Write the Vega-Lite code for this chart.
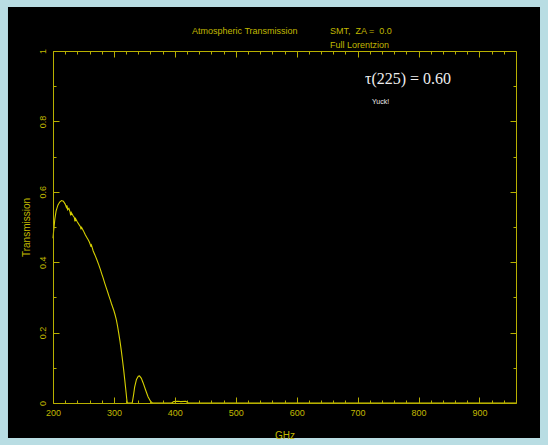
{
  "$schema": "https://vega.github.io/schema/vega-lite/v6.json",
  "width": 463,
  "height": 352,
  "autosize": {"type": "none"},
  "padding": {"left": 53, "top": 51, "right": 32, "bottom": 42},
  "background": "#b9dde3",
  "config": {"view": {"stroke": null}},
  "data": {"values": [
    {"GHz": 200, "Transmission": 0.468},
    {"GHz": 201, "Transmission": 0.488},
    {"GHz": 203, "Transmission": 0.522},
    {"GHz": 205, "Transmission": 0.545},
    {"GHz": 208, "Transmission": 0.562},
    {"GHz": 211, "Transmission": 0.571},
    {"GHz": 214, "Transmission": 0.575},
    {"GHz": 217, "Transmission": 0.573},
    {"GHz": 220, "Transmission": 0.565},
    {"GHz": 222, "Transmission": 0.556},
    {"GHz": 223, "Transmission": 0.561},
    {"GHz": 224, "Transmission": 0.549},
    {"GHz": 226, "Transmission": 0.553},
    {"GHz": 228, "Transmission": 0.543},
    {"GHz": 229, "Transmission": 0.533},
    {"GHz": 230, "Transmission": 0.541},
    {"GHz": 233, "Transmission": 0.532},
    {"GHz": 235, "Transmission": 0.527},
    {"GHz": 236, "Transmission": 0.516},
    {"GHz": 237, "Transmission": 0.524},
    {"GHz": 240, "Transmission": 0.514},
    {"GHz": 243, "Transmission": 0.506},
    {"GHz": 245, "Transmission": 0.501},
    {"GHz": 246, "Transmission": 0.493},
    {"GHz": 247, "Transmission": 0.499},
    {"GHz": 250, "Transmission": 0.489},
    {"GHz": 253, "Transmission": 0.478},
    {"GHz": 256, "Transmission": 0.469},
    {"GHz": 258, "Transmission": 0.463},
    {"GHz": 260, "Transmission": 0.456},
    {"GHz": 262, "Transmission": 0.446},
    {"GHz": 263, "Transmission": 0.449},
    {"GHz": 266, "Transmission": 0.432},
    {"GHz": 269, "Transmission": 0.42},
    {"GHz": 272, "Transmission": 0.407},
    {"GHz": 275, "Transmission": 0.393},
    {"GHz": 278, "Transmission": 0.378},
    {"GHz": 280, "Transmission": 0.367},
    {"GHz": 282, "Transmission": 0.357},
    {"GHz": 285, "Transmission": 0.34},
    {"GHz": 288, "Transmission": 0.324},
    {"GHz": 290, "Transmission": 0.314},
    {"GHz": 292, "Transmission": 0.303},
    {"GHz": 294, "Transmission": 0.293},
    {"GHz": 296, "Transmission": 0.282},
    {"GHz": 298, "Transmission": 0.272},
    {"GHz": 300, "Transmission": 0.262},
    {"GHz": 302, "Transmission": 0.25},
    {"GHz": 304, "Transmission": 0.236},
    {"GHz": 306, "Transmission": 0.218},
    {"GHz": 308, "Transmission": 0.197},
    {"GHz": 310, "Transmission": 0.175},
    {"GHz": 312, "Transmission": 0.15},
    {"GHz": 314, "Transmission": 0.123},
    {"GHz": 316, "Transmission": 0.094},
    {"GHz": 318, "Transmission": 0.062},
    {"GHz": 320, "Transmission": 0.03},
    {"GHz": 321, "Transmission": 0.012},
    {"GHz": 322, "Transmission": 0},
    {"GHz": 330, "Transmission": 0},
    {"GHz": 332, "Transmission": 0.02},
    {"GHz": 334, "Transmission": 0.045},
    {"GHz": 337, "Transmission": 0.067},
    {"GHz": 340, "Transmission": 0.076},
    {"GHz": 342, "Transmission": 0.077},
    {"GHz": 345, "Transmission": 0.07},
    {"GHz": 348, "Transmission": 0.057},
    {"GHz": 352, "Transmission": 0.037},
    {"GHz": 356, "Transmission": 0.018},
    {"GHz": 360, "Transmission": 0.005},
    {"GHz": 363, "Transmission": 0},
    {"GHz": 395, "Transmission": 0},
    {"GHz": 398, "Transmission": 0.004},
    {"GHz": 405, "Transmission": 0.005},
    {"GHz": 410, "Transmission": 0.004},
    {"GHz": 418, "Transmission": 0.005},
    {"GHz": 422, "Transmission": 0},
    {"GHz": 960, "Transmission": 0}
  ]},
  "layer": [
    {
      "data": {"values": [{}]},
      "mark": {"type": "rect", "color": "black"},
      "encoding": {
        "x": {"datum": 126.1, "type": "quantitative",
          "scale": {"domain": [200, 960], "nice": false, "zero": false},
          "axis": {"orient": "top", "zindex": 1, "values": [200,220,240,260,280,300,320,340,360,380,400,420,440,460,480,500,520,540,560,580,600,620,640,660,680,700,720,740,760,780,800,820,840,860,880,900,920,940],
            "tickSize": {"condition": {"test": "datum.value % 100 === 0", "value": -6}, "value": -3},
            "tickColor": "#b8b000", "domainColor": "#b8b000", "labels": false, "title": null, "grid": false}},
        "x2": {"datum": 999.4},
        "y": {"datum": 1.125, "type": "quantitative",
          "scale": {"domain": [0, 1], "nice": false, "zero": false},
          "axis": {"orient": "right", "zindex": 1, "values": [0,0.1,0.2,0.3,0.4,0.5,0.6,0.7,0.8,0.9,1],
            "tickSize": {"condition": {"test": "abs(datum.value*5 - round(datum.value*5)) < 1e-6", "value": -6}, "value": -3},
            "tickColor": "#b8b000", "domainColor": "#b8b000", "labels": false, "title": null, "grid": false}},
        "y2": {"datum": -0.0994}
      }
    },
    {
      "mark": {"type": "line", "color": "#d6d000", "strokeWidth": 1.1},
      "encoding": {
        "x": {"field": "GHz", "type": "quantitative",
          "scale": {"domain": [200, 960], "nice": false, "zero": false},
          "axis": {"orient": "bottom", "zindex": 1, "values": [200,220,240,260,280,300,320,340,360,380,400,420,440,460,480,500,520,540,560,580,600,620,640,660,680,700,720,740,760,780,800,820,840,860,880,900,920,940],
            "tickSize": {"condition": {"test": "datum.value % 100 === 0", "value": -6}, "value": -3},
            "labelExpr": "datum.value % 100 === 0 ? datum.label : ''",
            "labelFlush": false, "labelOverlap": false, "labelBound": false, "labelPadding": 11,
            "labelFont": "Liberation Sans", "labelFontSize": 9, "labelColor": "#c0b800",
            "tickColor": "#b8b000", "domainColor": "#b8b000", "grid": false,
            "title": "GHz", "titleFont": "Liberation Sans", "titleFontSize": 10, "titleFontWeight": "normal", "titleColor": "#c0b800", "titlePadding": 10}},
        "y": {"field": "Transmission", "type": "quantitative",
          "scale": {"domain": [0, 1], "nice": false, "zero": false},
          "axis": {"orient": "left", "zindex": 1, "values": [0,0.1,0.2,0.3,0.4,0.5,0.6,0.7,0.8,0.9,1],
            "format": "~g",
            "tickSize": {"condition": {"test": "abs(datum.value*5 - round(datum.value*5)) < 1e-6", "value": -6}, "value": -3},
            "labelExpr": "abs(datum.value*5 - round(datum.value*5)) < 1e-6 ? datum.label : ''",
            "labelAngle": -90, "labelAlign": "center", "labelBaseline": "bottom",
            "labelOverlap": false, "labelBound": false, "labelFlush": false, "labelPadding": 12,
            "labelFont": "Liberation Sans", "labelFontSize": 9, "labelColor": "#c0b800",
            "tickColor": "#b8b000", "domainColor": "#b8b000", "grid": false,
            "title": "Transmission", "titleFont": "Liberation Sans", "titleFontSize": 10, "titleFontWeight": "normal", "titleColor": "#c0b800", "titlePadding": 4}}
      }
    },
    {
      "data": {"values": [{}]},
      "mark": {"type": "text", "text": "Atmospheric Transmission", "align": "left", "baseline": "middle", "font": "Liberation Sans", "fontSize": 9, "color": "#c0b800"},
      "encoding": {
        "x": {"datum": 428.2, "type": "quantitative", "scale": {"domain": [200, 960], "nice": false, "zero": false}, "axis": null},
        "y": {"datum": 1.0568, "type": "quantitative", "scale": {"domain": [0, 1], "nice": false, "zero": false}, "axis": null}
      }
    },
    {
      "data": {"values": [{}]},
      "mark": {"type": "text", "text": "SMT,\u00a0 ZA =\u00a0 0.0", "align": "left", "baseline": "middle", "font": "Liberation Sans", "fontSize": 9, "color": "#c0b800"},
      "encoding": {
        "x": {"datum": 654.7, "type": "quantitative", "scale": {"domain": [200, 960], "nice": false, "zero": false}, "axis": null},
        "y": {"datum": 1.0568, "type": "quantitative", "scale": {"domain": [0, 1], "nice": false, "zero": false}, "axis": null}
      }
    },
    {
      "data": {"values": [{}]},
      "mark": {"type": "text", "text": "Full Lorentzion", "align": "left", "baseline": "middle", "font": "Liberation Sans", "fontSize": 9, "color": "#c0b800"},
      "encoding": {
        "x": {"datum": 654.7, "type": "quantitative", "scale": {"domain": [200, 960], "nice": false, "zero": false}, "axis": null},
        "y": {"datum": 1.017, "type": "quantitative", "scale": {"domain": [0, 1], "nice": false, "zero": false}, "axis": null}
      }
    },
    {
      "data": {"values": [{}]},
      "mark": {"type": "text", "text": "τ(225) = 0.60", "align": "left", "baseline": "middle", "font": "Liberation Serif", "fontSize": 16, "color": "#eeeeee"},
      "encoding": {
        "x": {"datum": 712.1, "type": "quantitative", "scale": {"domain": [200, 960], "nice": false, "zero": false}, "axis": null},
        "y": {"datum": 0.9205, "type": "quantitative", "scale": {"domain": [0, 1], "nice": false, "zero": false}, "axis": null}
      }
    },
    {
      "data": {"values": [{}]},
      "mark": {"type": "text", "text": "Yuck!", "align": "left", "baseline": "middle", "font": "Liberation Sans", "fontSize": 7, "color": "#eeeeee"},
      "encoding": {
        "x": {"datum": 723.6, "type": "quantitative", "scale": {"domain": [200, 960], "nice": false, "zero": false}, "axis": null},
        "y": {"datum": 0.855, "type": "quantitative", "scale": {"domain": [0, 1], "nice": false, "zero": false}, "axis": null}
      }
    }
  ]
}
